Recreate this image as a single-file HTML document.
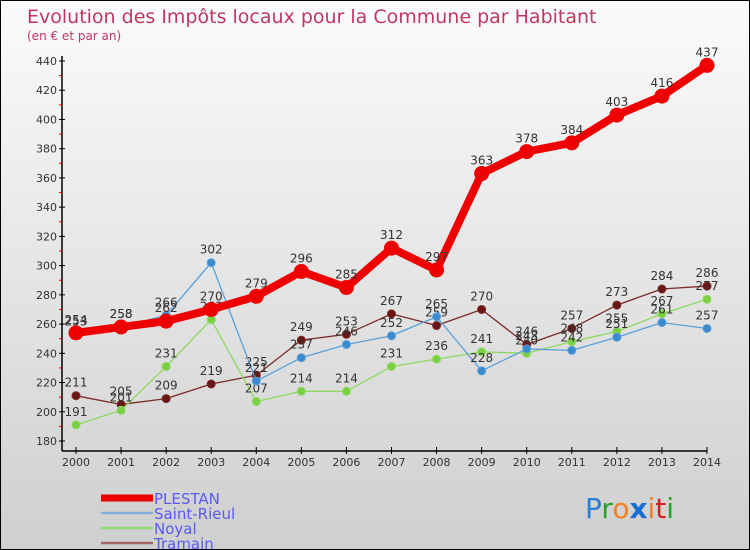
<!DOCTYPE html>
<html><head><meta charset="utf-8"><style>
body{margin:0}
#wrap{width:750px;height:550px;position:relative;box-sizing:border-box;border:1px solid #000;background:linear-gradient(#fbfbfb,#cfcfcf);font-family:"DejaVu Sans","Liberation Sans",sans-serif;overflow:hidden}
svg text{font-family:"DejaVu Sans","Liberation Sans",sans-serif}
</style></head><body>
<div id="wrap">
<svg id="chart" width="750" height="550">
<text x="26" y="22" font-size="19" fill="#c0385f">Evolution des Impôts locaux pour la Commune par Habitant</text>
<text x="26" y="39" font-size="12" fill="#c0385f">(en € et par an)</text>
<g id="axes"></g><g id="series"></g><g id="legend"></g>
<text x="584" y="517" font-size="28" font-family="Liberation Sans"><tspan fill="#2a7fd0">P</tspan><tspan fill="#2aa02a">r</tspan><tspan fill="#f08020">o</tspan><tspan fill="#1a6fd0" font-weight="bold">x</tspan><tspan fill="#f08020">i</tspan><tspan fill="#d02020">t</tspan><tspan fill="#2aa02a">i</tspan></text>
</svg></div>
<script>
const years=[2000,2001,2002,2003,2004,2005,2006,2007,2008,2009,2010,2011,2012,2013,2014];
const plestan=[254,258,262,270,279,296,285,312,297,363,378,384,403,416,437];
const saintRieul=[253,258,266,302,221,237,246,252,265,228,243,242,251,261,257];
const noyal=[191,201,231,263,207,214,214,231,236,241,240,248,255,267,277];
const tramain=[211,205,209,219,225,249,253,267,259,270,246,257,273,284,286];
const yTicks=[180,200,220,240,260,280,300,320,340,360,380,400,420,440];
const NS="http://www.w3.org/2000/svg";
const xs=i=>75+i*(706-75)/(years.length-1);
const ys=v=>440-(v-180)*(380/260);
function mk(t,a,p){const e=document.createElementNS(NS,t);for(const k in a)e.setAttribute(k,a[k]);p.appendChild(e);return e;}
const ax=document.getElementById('axes');
const yl=mk('line',{x1:61,y1:55,x2:61,y2:450,stroke:'#000','stroke-width':1.5},ax);


const xl=mk('line',{x1:61,y1:450,x2:706,y2:450,stroke:'#000','stroke-width':1.5},ax);


yTicks.forEach(v=>{
 mk('line',{x1:58,x2:64,y1:ys(v),y2:ys(v),stroke:'#000'},ax);
 if(v<440) mk('line',{x1:58,x2:61,y1:ys(v+10),y2:ys(v+10),stroke:'#e00'},ax);
 const t=mk('text',{x:56,y:ys(v)+4,'text-anchor':'end','font-size':11,fill:'#333'},ax);
 t.textContent=v;
 
 
});
years.forEach((y,i)=>{
 mk('line',{x1:xs(i),x2:xs(i),y1:446,y2:453,stroke:'#000'},ax);
 const t=mk('text',{x:xs(i),y:465,'text-anchor':'middle','font-size':11,fill:'#333'},ax);
 t.textContent=y;
 
 
});
const sg=document.getElementById('series');
function draw(data,color,mcolor,w,r,name){
 const g=mk('g',{},sg);
 
 
 const pl=mk('polyline',{points:data.map((v,i)=>xs(i)+','+ys(v)).join(' '),fill:'none',stroke:color,'stroke-width':w,'stroke-linejoin':'round'},g);
 
 
 data.forEach((v,i)=>{
  const c=mk('circle',{cx:xs(i),cy:ys(v),r:r,fill:mcolor,stroke:color,'stroke-width':1},g);
  
  
  const t=mk('text',{x:xs(i),y:ys(v)-9,'text-anchor':'middle','font-size':12,fill:'#333'},g);
  t.textContent=v;
  
  
 });
}
draw(tramain,'#7a2a2a','#6a1515',1.3,4,'tramain');
draw(noyal,'#8ed860','#7ad040',1.3,4,'noyal');
draw(saintRieul,'#5a9fd8','#3a8ad0',1.3,4,'saint-rieul');
draw(plestan,'#ee0000','#ee0000',8,7,'plestan');
const lg=document.getElementById('legend');
[['PLESTAN','#ee0000',7],['Saint-Rieul','#80b0d8',2.5],['Noyal','#90dc70',2.5],['Tramain','#a06868',2.5]].forEach((d,i)=>{
 const y=497+i*15;
 const l=mk('line',{x1:100,x2:152,y1:y,y2:y,stroke:d[1],'stroke-width':d[2]},lg);
 
 
 const t=mk('text',{x:153,y:y+6,'font-size':15,fill:'#5a5af0'},lg);
 t.textContent=d[0];
 
 
});
</script>
</body></html>
